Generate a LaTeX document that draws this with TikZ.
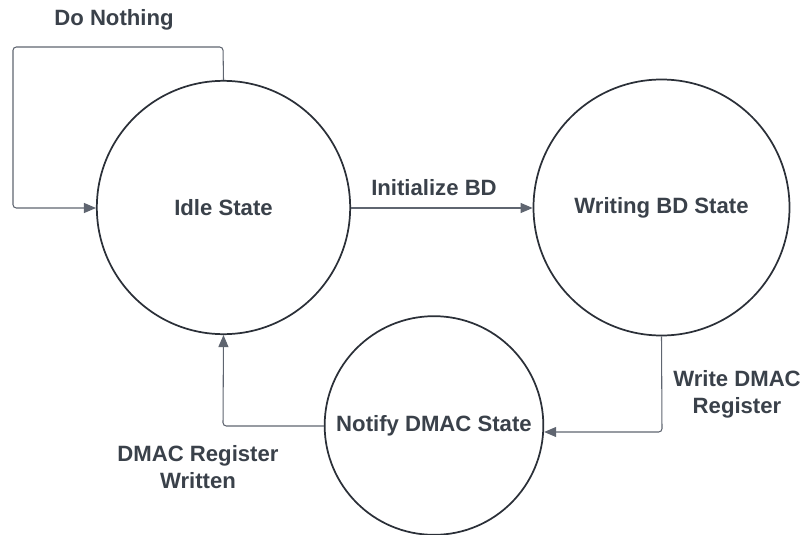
\documentclass[tikz,border=0pt]{standalone}
\usepackage{fontspec}
\setmainfont{Liberation Sans}
\usetikzlibrary{arrows.meta}
\definecolor{txt}{HTML}{3A414A}
\definecolor{ring}{HTML}{2B3038}
\definecolor{wire}{HTML}{5F6570}
\tikzset{
  statenode/.style={circle, draw=ring, line width=1.3pt, minimum size=#1, inner sep=0pt, text=txt, font=\fontsize{16.6}{19}\selectfont\bfseries},
  lbl/.style={text=txt, font=\fontsize{16.6}{20.5}\selectfont\bfseries, align=center, inner sep=0pt},
  conn/.style={draw=wire, line width=0.8pt, rounded corners=2.5pt, -{Triangle[length=9pt, width=7.5pt]}}
}
\begin{document}
\begin{tikzpicture}[x=0.75pt, y=-0.75pt]
\useasboundingbox (0,0) rectangle (803,535);
\node[statenode=190pt] (idle) at (223.5,207.5) {Idle State};
\node[statenode=192pt] (wr) at (661.5,207.5) {Writing BD State};
\node[statenode=164pt] (nt) at (434,425.5) {Notify DMAC State};
\coordinate (c1) at (223,47);
\coordinate (c2) at (13,47);
\coordinate (c3) at (13,208);
\draw[conn] (idle.north) -- (c1) -- (c2) -- (c3) -- (idle.west |- c3);
\draw[conn] (idle.east |- 0,208) -- (wr.west |- 0,208);
\coordinate (c4) at (662,432);
\draw[conn] (wr.south) -- (c4) -- (nt.east |- c4);
\coordinate (c5) at (223,426);
\draw[conn] (nt.west |- c5) -- (c5) -- (idle.south);
\node[lbl] (l1) at (114,20) {Do Nothing};
\node[lbl] (l2) at (434,188) {Initialize BD};
\node[lbl] (l3) at (737,394) {Write DMAC\\Register};
\node[lbl] (l4) at (198,467) {DMAC Register\\Written};
\end{tikzpicture}
\end{document}
